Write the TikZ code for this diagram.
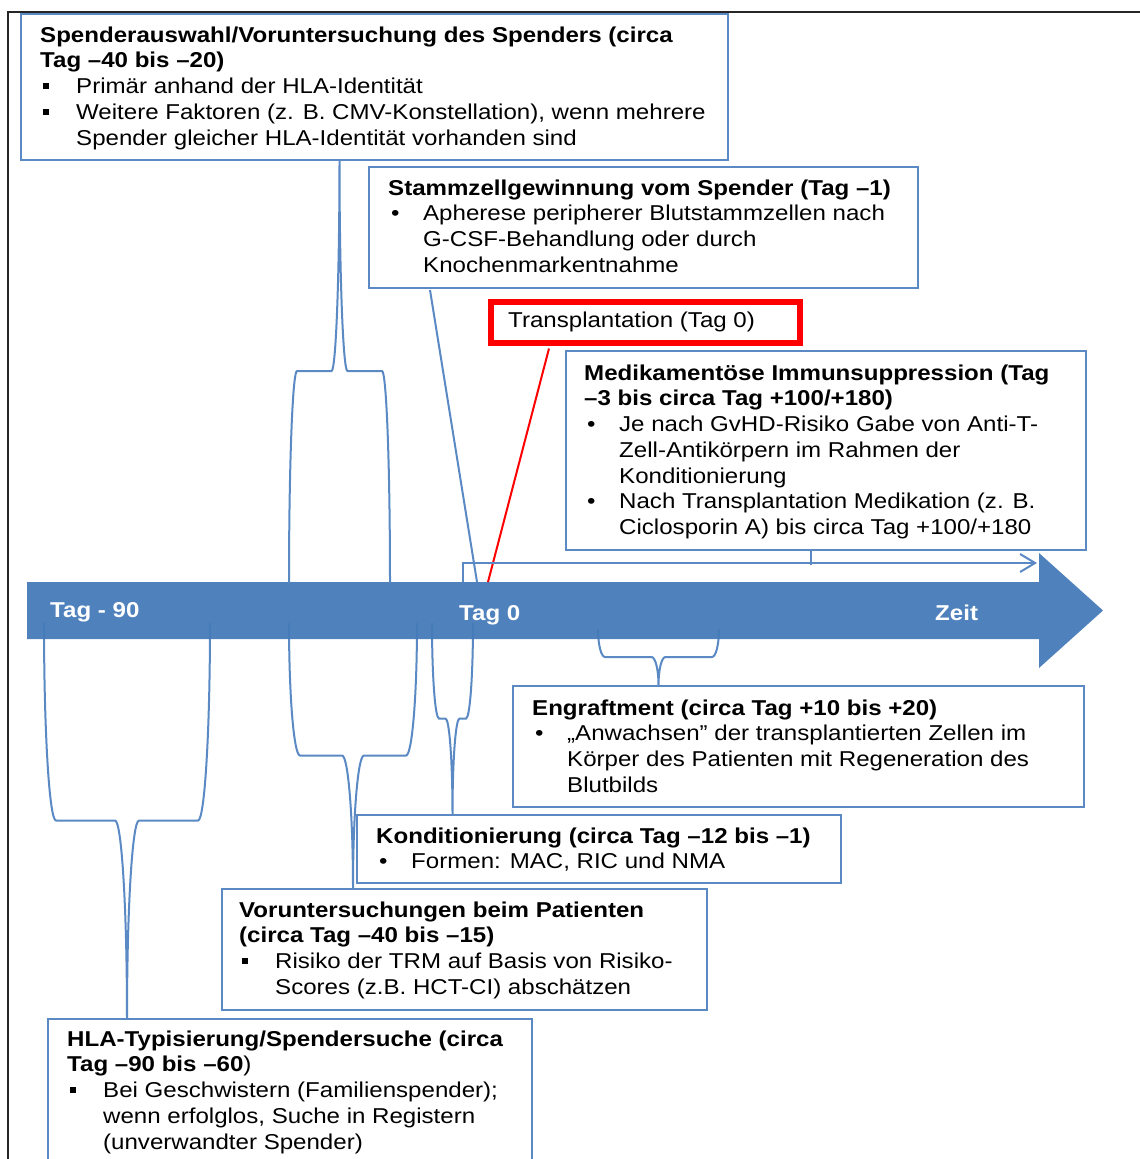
\documentclass[tikz,border=0pt]{standalone}
\usepackage{fontspec}
\setmainfont{Liberation Sans}[FakeStretch=1.12]
\usetikzlibrary{arrows.meta,calc}
\definecolor{pblue}{HTML}{4F81BD}
\definecolor{ablue}{HTML}{447BB9}
\definecolor{bblue}{HTML}{5A89C4}
\newcommand\sqb{\makebox[36pt][l]{\hspace{3pt}\rule[4.5pt]{6pt}{6pt}}}
\newcommand\rdb{\makebox[35pt][l]{\hspace{3pt}\textbullet}}
\newcommand\hsq{\hspace*{36pt}}
\newcommand\hrd{\hspace*{35pt}}
\newcommand\pbrace[6]{%
 \pgfmathsetmacro\bxc{(#2+#3)/2}%
 \pgfmathsetmacro\bym{(#4+#5)/2}%
 \pgfmathsetmacro\bka{#4+0.5523*(\bym-#4)}%
 \pgfmathsetmacro\bkb{#5-0.5523*(#5-\bym)}%
 \pgfmathsetmacro\bLa{#2+#6}%
 \pgfmathsetmacro\bLb{#2+#6-0.5523*#6}%
 \pgfmathsetmacro\bRa{#3-#6}%
 \pgfmathsetmacro\bRb{#3-#6+0.5523*#6}%
 \pgfmathsetmacro\bCl{\bxc-#6}%
 \pgfmathsetmacro\bClc{\bxc-#6+0.5523*#6}%
 \pgfmathsetmacro\bCr{\bxc+#6}%
 \pgfmathsetmacro\bCrc{\bxc+#6-0.5523*#6}%
 \coordinate (#1-l) at (#2,#4);
 \coordinate (#1-r) at (#3,#4);
 \coordinate (#1-tip) at (\bxc,#5);
 \draw[brace] (#1-l) .. controls (#2,\bka) and (\bLb,\bym) .. (\bLa,\bym) -- (\bCl,\bym)
   .. controls (\bClc,\bym) and (\bxc,\bkb) .. (#1-tip)
   .. controls (\bxc,\bkb) and (\bCrc,\bym) .. (\bCr,\bym) -- (\bRa,\bym)
   .. controls (\bRb,\bym) and (#3,\bka) .. (#1-r);
}
\begin{document}
\begin{tikzpicture}[x=1pt,y=-1pt,
  box/.style={draw=bblue, line width=2pt, fill=white, inner sep=0pt, anchor=north west},
  txt/.style={inner sep=0pt, anchor=north west, align=left, font=\fontsize{21.5}{25.7}\selectfont},
  lbl/.style={inner sep=0pt, anchor=base west, text=white, font=\fontsize{21.5}{25.7}\selectfont\bfseries},
  brace/.style={draw=bblue, line width=2pt},
  conn/.style={draw=bblue, line width=2pt}]
\useasboundingbox (0,0) rectangle (1140,1159);
\clip (0,0) rectangle (1140,1159);
\fill[white] (0,0) rectangle (1140,1159);
% frame
\coordinate (fTL) at (8,12);
\coordinate (fTR) at (1141,12);
\coordinate (fBL) at (8,1160);
\draw[line width=2pt, black!85] (fTR) -- (fTL) -- (fBL);
% lower braces (behind the arrow)
\pbrace{bH}{44}{210}{623}{1018}{12}
\pbrace{bG}{289}{417}{623}{888}{11}
\pbrace{bF}{432}{473}{623}{814}{7}
\pbrace{bE}{598}{719}{629}{685}{7}
% time arrow
\fill[ablue, fill opacity=0.94] (27,582) -- (1039,582) -- (1039,553) -- (1103,610.5) -- (1039,668) -- (1039,639) -- (27,639) -- cycle;
\node[lbl] (t90) at (50,617) {Tag - 90};
\node[lbl] (t0) at (459,620) {Tag 0};
\node[lbl] (zeit) at (935,620) {Zeit};
% upper brace
\pbrace{bA}{289}{390}{583}{159}{8}
% boxes
\node[box, minimum width=707, minimum height=146] (A) at (20,13) {};
\node[box, minimum width=549, minimum height=121] (B) at (368,166) {};
\node[box, draw=red, line width=5.5pt, minimum width=309, minimum height=41] (C) at (488,299) {};
\node[box, minimum width=520, minimum height=199] (D) at (565,350) {};
\node[box, minimum width=571, minimum height=121] (E) at (512,685) {};
\node[box, minimum width=484, minimum height=68] (F) at (356,814) {};
\node[box, minimum width=485, minimum height=121] (G) at (221,888) {};
\node[box, minimum width=484, minimum height=200] (H) at (47,1018) {};
% connectors
\coordinate (stEnd) at (477,582);
\draw[conn] ($(B.south west)+(62,1)$) -- (stEnd);
\coordinate (trEnd) at (488,582);
\draw[red, line width=2pt] ($(C.south west)+(61,3)$) -- (trEnd);
\coordinate (imL) at (463,582);
\coordinate (imC) at (463,563);
\coordinate (imR) at (1037,563);
\draw[conn, -{Straight Barb[length=15pt,width=18pt,line width=2pt]}] (imL) -- (imC) -- (imR);
\draw[conn] ($(D.south west)+(246,0)$) -- ($(D.south west)+(246,14)$);
% texts
\node[txt] (At) at (40,13) {\rule{0pt}{29pt}\textbf{Spenderauswahl/Voruntersuchung des Spenders (circa}\\
\textbf{Tag –40 bis –20)}\\
\sqb Primär anhand der HLA-Identität\\
\sqb Weitere Faktoren (z. B. CMV-Konstellation), wenn mehrere\\
\hsq Spender gleicher HLA-Identität vorhanden sind};
\node[txt] (Bt) at (388,166) {\rule{0pt}{29pt}\textbf{Stammzellgewinnung vom Spender (Tag –1)}\\
\rdb Apherese peripherer Blutstammzellen nach\\
\hrd G-CSF-Behandlung oder durch\\
\hrd Knochenmarkentnahme};
\node[inner sep=0pt, anchor=base west, font=\fontsize{21.5}{25.7}\selectfont] (Ct) at (508,327) {Transplantation (Tag 0)};
\node[txt] (Dt) at (584,350) {\rule{0pt}{30pt}\textbf{Medikamentöse Immunsuppression (Tag}\\
\textbf{–3 bis circa Tag +100/+180)}\\
\rdb Je nach GvHD-Risiko Gabe von Anti-T-\\
\hrd Zell-Antikörpern im Rahmen der\\
\hrd Konditionierung\\
\rdb Nach Transplantation Medikation (z. B.\\
\hrd Ciclosporin A) bis circa Tag +100/+180};
\node[txt] (Et) at (532,685) {\rule{0pt}{30pt}\textbf{Engraftment (circa Tag +10 bis +20)}\\
\rdb „Anwachsen” der transplantierten Zellen im\\
\hrd Körper des Patienten mit Regeneration des\\
\hrd Blutbilds};
\node[txt] (Ft) at (376,814) {\rule{0pt}{29pt}\textbf{Konditionierung (circa Tag –12 bis –1)}\\
\rdb Formen: MAC, RIC und NMA};
\node[txt] (Gt) at (239,888) {\rule{0pt}{29pt}\textbf{Voruntersuchungen beim Patienten}\\
\textbf{(circa Tag –40 bis –15)}\\
\sqb Risiko der TRM auf Basis von Risiko-\\
\hsq Scores (z.B. HCT-CI) abschätzen};
\node[txt] (Ht) at (67,1018) {\rule{0pt}{28pt}\textbf{HLA-Typisierung/Spendersuche (circa}\\
\textbf{Tag –90 bis –60})\\
\sqb Bei Geschwistern (Familienspender);\\
\hsq wenn erfolglos, Suche in Registern\\
\hsq (unverwandter Spender)};
\end{tikzpicture}
\end{document}
